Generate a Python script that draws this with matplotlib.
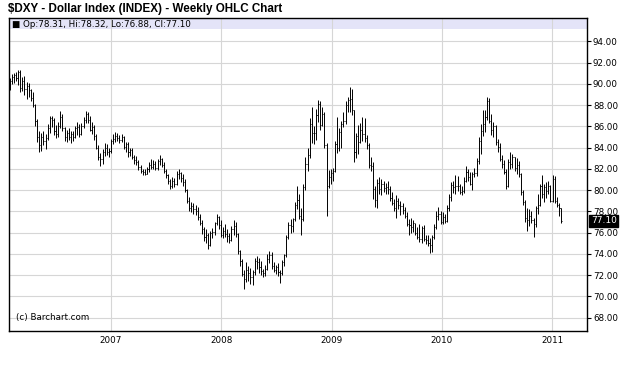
import numpy as np
import pandas as pd
import matplotlib
matplotlib.use('Agg')
import matplotlib.pyplot as plt
import matplotlib.dates as mdates
import matplotlib.transforms as mtransforms

# weekly OHLC of $DXY (weeks starting 2006-01-30)
opens = [
    89.9, 90.3, 90.6, 90.8, 90.5, 91.1, 89.6, 90.3, 89.5, 89.8,
    89.4, 88.7, 88.0, 86.5, 85.0, 84.2, 85.0, 84.6, 84.9, 85.8,
    86.8, 86.6, 85.6, 85.3, 86.0, 86.9, 85.8, 85.0, 85.4, 85.0,
    85.3, 85.0, 85.8, 85.9, 85.3, 86.0, 86.6, 87.2, 86.6, 85.7,
    85.9, 85.1, 84.0, 83.1, 82.9, 83.6, 84.0, 83.6, 83.7, 84.6,
    84.8, 85.1, 84.9, 84.7, 85.0, 84.1, 84.3, 83.6, 83.8, 83.1,
    82.8, 82.6, 82.2, 81.8, 81.7, 81.5, 82.0, 82.4, 82.2, 82.5,
    82.1, 82.7, 82.9, 82.4, 81.8, 81.4, 80.9, 80.4, 80.9, 80.6,
    81.5, 81.6, 81.1, 80.8, 80.0, 79.0, 78.3, 78.5, 78.2, 78.0,
    77.5, 76.9, 76.3, 75.6, 75.8, 74.8, 76.0, 76.1, 76.9, 77.5,
    76.7, 75.8, 76.2, 75.9, 75.7, 75.3, 76.3, 76.6, 75.9, 74.3,
    73.3, 72.1, 71.6, 72.5, 72.2, 71.8, 72.3, 73.3, 73.2, 72.8,
    72.4, 72.2, 72.6, 73.5, 73.9, 72.9, 72.5, 72.8, 72.3, 72.2,
    73.2, 73.9, 75.6, 76.7, 76.6, 77.3, 78.6, 79.1, 77.6, 77.3,
    80.3, 82.5, 83.3, 86.2, 85.4, 85.4, 87.1, 88.1, 86.1, 87.2,
    84.2, 80.4, 81.2, 81.6, 81.8, 84.3, 84.0, 85.5, 86.2, 86.5,
    88.0, 88.5, 88.6, 87.5, 83.6, 85.1, 84.5, 85.7, 85.3, 84.9,
    84.2, 82.4, 82.3, 80.1, 79.1, 80.7, 80.1, 80.6, 80.2, 80.3,
    80.1, 79.3, 78.8, 78.3, 79.0, 78.6, 78.5, 78.1, 77.6, 76.8,
    76.7, 76.5, 76.9, 76.0, 75.6, 75.4, 76.4, 75.4, 75.3, 75.0,
    74.8, 75.6, 76.5, 77.6, 77.8, 77.0, 77.5, 77.1, 78.3, 79.4,
    80.5, 80.3, 80.4, 80.4, 79.8, 79.9, 80.9, 81.7, 81.2, 80.6,
    81.5, 81.6, 82.7, 84.6, 85.6, 86.2, 86.9, 88.4, 86.5, 85.7,
    86.0, 84.5, 84.1, 82.9, 82.5, 81.7, 80.4, 82.6, 82.5, 83.1,
    82.1, 82.4, 81.5, 79.8, 78.9, 77.4, 77.2, 77.6, 77.2, 76.8,
    78.3, 78.6, 80.4, 79.6, 80.3, 79.9, 80.4, 79.0, 81.0, 79.0,
    78.6, 78.31]
highs = [
    90.5, 90.9, 91.0, 91.1, 91.3, 91.3, 90.6, 90.7, 90.2, 90.1,
    89.5, 89.2, 88.1, 86.7, 85.6, 85.4, 85.6, 85.3, 86.2, 87.0,
    87.0, 86.8, 86.1, 86.4, 87.4, 87.2, 85.9, 85.7, 85.8, 85.6,
    85.6, 86.0, 86.4, 86.2, 86.3, 86.9, 87.4, 87.3, 87.0, 86.4,
    86.1, 85.3, 84.2, 83.5, 83.9, 84.4, 84.3, 84.0, 84.8, 85.3,
    85.5, 85.4, 85.2, 85.3, 85.1, 84.5, 84.5, 84.0, 84.0, 83.3,
    83.2, 82.8, 82.4, 82.0, 82.0, 82.2, 82.6, 82.9, 82.8, 82.7,
    82.9, 83.3, 83.0, 82.6, 82.0, 81.5, 81.0, 81.2, 81.1, 81.8,
    82.0, 81.7, 81.5, 81.0, 80.1, 79.4, 78.9, 78.8, 78.6, 78.4,
    77.8, 77.2, 76.5, 76.3, 76.0, 76.2, 76.4, 77.0, 77.8, 77.6,
    77.2, 76.5, 76.8, 76.3, 76.0, 76.6, 77.2, 77.0, 76.0, 74.4,
    73.5, 72.5, 73.2, 72.9, 72.7, 72.5, 73.6, 73.8, 73.6, 73.3,
    72.6, 73.0, 74.0, 74.3, 74.2, 73.2, 73.0, 73.1, 72.5, 73.4,
    74.0, 75.8, 77.0, 77.3, 77.4, 78.9, 80.4, 79.6, 78.3, 80.6,
    83.1, 84.0, 86.8, 87.8, 86.0, 87.6, 88.5, 88.4, 87.8, 87.3,
    84.4, 81.9, 82.0, 82.1, 84.6, 86.9, 85.8, 86.5, 87.3, 88.4,
    88.8, 89.7, 89.5, 87.5, 85.4, 86.1, 86.3, 86.9, 86.8, 85.2,
    84.4, 83.1, 82.6, 80.4, 81.0, 81.2, 81.0, 80.9, 80.7, 80.9,
    80.4, 79.8, 79.2, 79.5, 79.3, 79.0, 78.8, 78.4, 77.9, 77.3,
    77.4, 77.2, 76.9, 76.5, 76.8, 76.6, 76.7, 75.8, 75.8, 75.5,
    75.8, 76.8, 78.0, 78.4, 78.0, 77.9, 77.8, 78.6, 79.6, 80.8,
    80.9, 81.4, 81.3, 80.6, 80.4, 81.2, 82.3, 82.0, 81.7, 81.7,
    82.1, 83.0, 85.0, 86.2, 87.5, 87.5, 88.8, 88.7, 87.2, 86.4,
    86.1, 84.8, 84.4, 83.3, 82.8, 82.0, 82.9, 83.6, 83.4, 83.1,
    83.0, 82.7, 81.6, 80.0, 79.1, 78.3, 78.2, 78.0, 77.4, 78.5,
    79.6, 80.6, 81.4, 80.6, 80.8, 80.9, 80.5, 81.4, 81.3, 79.4,
    78.8, 78.32]
lows = [
    89.4, 90.0, 90.1, 90.3, 89.9, 89.2, 89.3, 88.9, 88.6, 88.8,
    88.4, 87.8, 86.0, 84.5, 83.6, 83.7, 84.2, 83.9, 84.7, 85.4,
    85.9, 85.2, 84.9, 85.0, 85.8, 85.6, 84.6, 84.5, 84.7, 84.4,
    84.6, 84.9, 85.2, 85.0, 85.2, 85.8, 86.3, 86.3, 85.6, 85.3,
    84.7, 83.9, 82.8, 82.3, 82.5, 83.2, 83.3, 83.1, 83.5, 84.3,
    84.5, 84.6, 84.4, 84.5, 83.9, 83.6, 83.1, 83.2, 82.9, 82.5,
    82.4, 81.9, 81.6, 81.4, 81.4, 81.5, 81.7, 82.0, 82.0, 81.9,
    81.9, 82.4, 82.2, 81.6, 81.1, 80.6, 80.1, 80.2, 80.3, 80.5,
    81.0, 80.8, 80.4, 79.8, 78.8, 78.0, 77.9, 77.8, 77.7, 77.2,
    76.7, 75.9, 75.2, 75.0, 74.5, 74.7, 75.5, 75.8, 76.7, 76.3,
    75.6, 75.5, 75.6, 75.1, 75.0, 75.2, 75.8, 75.6, 74.0, 72.9,
    71.9, 70.7, 71.4, 71.5, 71.2, 71.1, 72.0, 72.6, 72.2, 72.0,
    71.8, 71.9, 72.5, 73.1, 72.6, 72.3, 72.1, 71.9, 71.3, 72.0,
    72.9, 73.7, 75.4, 76.0, 76.1, 77.1, 78.2, 77.3, 75.8, 77.1,
    80.0, 81.8, 83.0, 84.4, 84.3, 84.7, 86.4, 85.7, 86.0, 84.0,
    77.6, 80.2, 80.6, 80.9, 81.7, 83.5, 83.7, 84.0, 85.9, 86.2,
    87.3, 87.3, 87.1, 82.6, 83.0, 83.4, 84.4, 84.6, 84.5, 83.9,
    82.1, 81.8, 79.2, 78.4, 78.3, 79.6, 79.5, 79.8, 79.6, 79.6,
    79.0, 78.6, 78.0, 77.4, 78.2, 77.7, 77.8, 77.4, 76.6, 75.8,
    76.0, 76.1, 75.8, 75.4, 75.1, 75.0, 75.2, 74.9, 74.7, 74.1,
    74.2, 75.4, 76.3, 77.2, 76.8, 76.8, 76.9, 77.0, 78.0, 79.0,
    79.7, 79.6, 79.9, 79.6, 79.5, 79.7, 80.8, 80.9, 80.5, 80.0,
    81.2, 81.3, 82.5, 83.4, 85.1, 85.5, 86.6, 86.3, 85.2, 85.0,
    84.2, 83.6, 82.7, 82.1, 81.5, 80.1, 80.3, 82.0, 82.1, 81.8,
    81.5, 81.2, 79.5, 78.6, 77.0, 76.2, 76.6, 76.9, 75.6, 76.5,
    77.8, 78.5, 79.3, 78.9, 79.3, 79.6, 78.9, 78.9, 78.8, 78.4,
    77.6, 76.88]
closes = [
    90.3, 90.6, 90.8, 90.5, 91.1, 89.6, 90.3, 89.5, 89.8, 89.4,
    88.7, 88.0, 86.5, 85.0, 84.2, 85.0, 84.6, 84.9, 85.8, 86.8,
    86.6, 85.6, 85.3, 86.0, 86.9, 85.8, 85.0, 85.4, 85.0, 85.3,
    85.0, 85.8, 85.9, 85.3, 86.0, 86.6, 87.2, 86.6, 85.7, 85.9,
    85.1, 84.0, 83.1, 82.9, 83.6, 84.0, 83.6, 83.7, 84.6, 84.8,
    85.1, 84.9, 84.7, 85.0, 84.1, 84.3, 83.6, 83.8, 83.1, 82.8,
    82.6, 82.2, 81.8, 81.7, 81.5, 82.0, 82.4, 82.2, 82.5, 82.1,
    82.7, 82.9, 82.4, 81.8, 81.4, 80.9, 80.4, 80.9, 80.6, 81.5,
    81.6, 81.1, 80.8, 80.0, 79.0, 78.3, 78.5, 78.2, 78.0, 77.5,
    76.9, 76.3, 75.6, 75.8, 74.8, 76.0, 76.1, 76.9, 77.5, 76.7,
    75.8, 76.2, 75.9, 75.7, 75.3, 76.3, 76.6, 75.9, 74.3, 73.3,
    72.1, 71.6, 72.5, 72.2, 71.8, 72.3, 73.3, 73.2, 72.8, 72.4,
    72.2, 72.6, 73.5, 73.9, 72.9, 72.5, 72.8, 72.3, 72.2, 73.2,
    73.9, 75.6, 76.7, 76.6, 77.3, 78.6, 79.1, 77.6, 77.3, 80.3,
    82.5, 83.3, 86.2, 85.4, 85.4, 87.1, 88.1, 86.1, 87.2, 84.2,
    80.4, 81.2, 81.6, 81.8, 84.3, 84.0, 85.5, 86.2, 86.5, 88.0,
    88.5, 88.6, 87.5, 83.6, 85.1, 84.5, 85.7, 85.3, 84.9, 84.2,
    82.4, 82.3, 80.1, 79.1, 80.7, 80.1, 80.6, 80.2, 80.3, 80.1,
    79.3, 78.8, 78.3, 79.0, 78.6, 78.5, 78.1, 77.6, 76.8, 76.7,
    76.5, 76.9, 76.0, 75.6, 75.4, 76.4, 75.4, 75.3, 75.0, 74.8,
    75.6, 76.5, 77.6, 77.8, 77.0, 77.5, 77.1, 78.3, 79.4, 80.5,
    80.3, 80.4, 80.4, 79.8, 79.9, 80.9, 81.7, 81.2, 80.6, 81.5,
    81.6, 82.7, 84.6, 85.6, 86.2, 86.9, 88.4, 86.5, 85.7, 86.0,
    84.5, 84.1, 82.9, 82.5, 81.7, 80.4, 82.6, 82.5, 83.1, 82.1,
    82.4, 81.5, 79.8, 78.9, 77.4, 77.2, 77.6, 77.2, 76.8, 78.3,
    78.6, 80.4, 79.6, 80.3, 79.9, 80.4, 79.0, 81.0, 79.0, 78.6,
    78.3, 77.10]

year_ticks = ['2007', '2008', '2009', '2010', '2011']
price_ticks = np.arange(68, 96, 2)

dates = pd.date_range('2006-01-30', periods=len(closes), freq='7D')
x = mdates.date2num(dates)

fig = plt.figure(figsize=(6.25, 3.67), dpi=100)
ax = fig.add_axes([0.0149, 0.0989, 0.9238, 0.8513])
ax.set_xlim(mdates.date2num(pd.Timestamp('2006-01-29')),
            mdates.date2num(pd.Timestamp('2011-04-26')))
ax.set_ylim(66.78, 96.16)

# grid + header band
ax.set_axisbelow(True)
ax.grid(True, color='#d6d6d6', lw=0.8)
ax.axhspan(95.15, 96.05, color='#e4e4f8', lw=0, zorder=0.5)

# ohlc bars (thin, 1px)
ax.vlines(x, lows, highs, color='black', lw=0.7, zorder=3)
ax.hlines(opens, x - 2.0, x, color='black', lw=0.7, zorder=3)
ax.hlines(closes, x, x + 2.0, color='black', lw=0.7, zorder=3)

# axes / ticks
ax.set_xticks([mdates.date2num(pd.Timestamp(y + '-01-01')) for y in year_ticks])
ax.set_xticklabels(year_ticks)
ax.set_yticks(price_ticks)
ax.set_yticklabels(['%.2f' % v for v in price_ticks])
ax.yaxis.tick_right()
ax.tick_params(axis='x', length=0, pad=4, labelsize=6.3)
ax.tick_params(axis='y', length=3, width=0.8, pad=1.5, labelsize=6.3, direction='out')
for s in ax.spines.values():
    s.set_color('black')
    s.set_linewidth(1.0)

fig.text(8 / 625, 1 - 9 / 367, '$DXY - Dollar Index (INDEX) - Weekly OHLC Chart',
         fontsize=8.4, fontweight='bold', family='Liberation Sans', va='center')
ax.text(0.004, 0.980, '\u25a0 Op:%.2f, Hi:%.2f, Lo:%.2f, Cl:%.2f' % (opens[-1], highs[-1], lows[-1], closes[-1]),
        transform=ax.transAxes, fontsize=6.3, va='center', zorder=5)
ax.text(0.0116, 0.041, '(c) Barchart.com', transform=ax.transAxes, fontsize=6.3, va='center')

# last price box on right axis
trans = mtransforms.blended_transform_factory(ax.transAxes, ax.transData)
ax.text(1.007, closes[-1], '%.2f' % closes[-1], transform=trans, color='white',
        fontsize=6.5, va='center', ha='left', clip_on=False, zorder=6,
        bbox=dict(boxstyle='square,pad=0.15', fc='black', ec='black'))

plt.savefig('out.png', dpi=100)
